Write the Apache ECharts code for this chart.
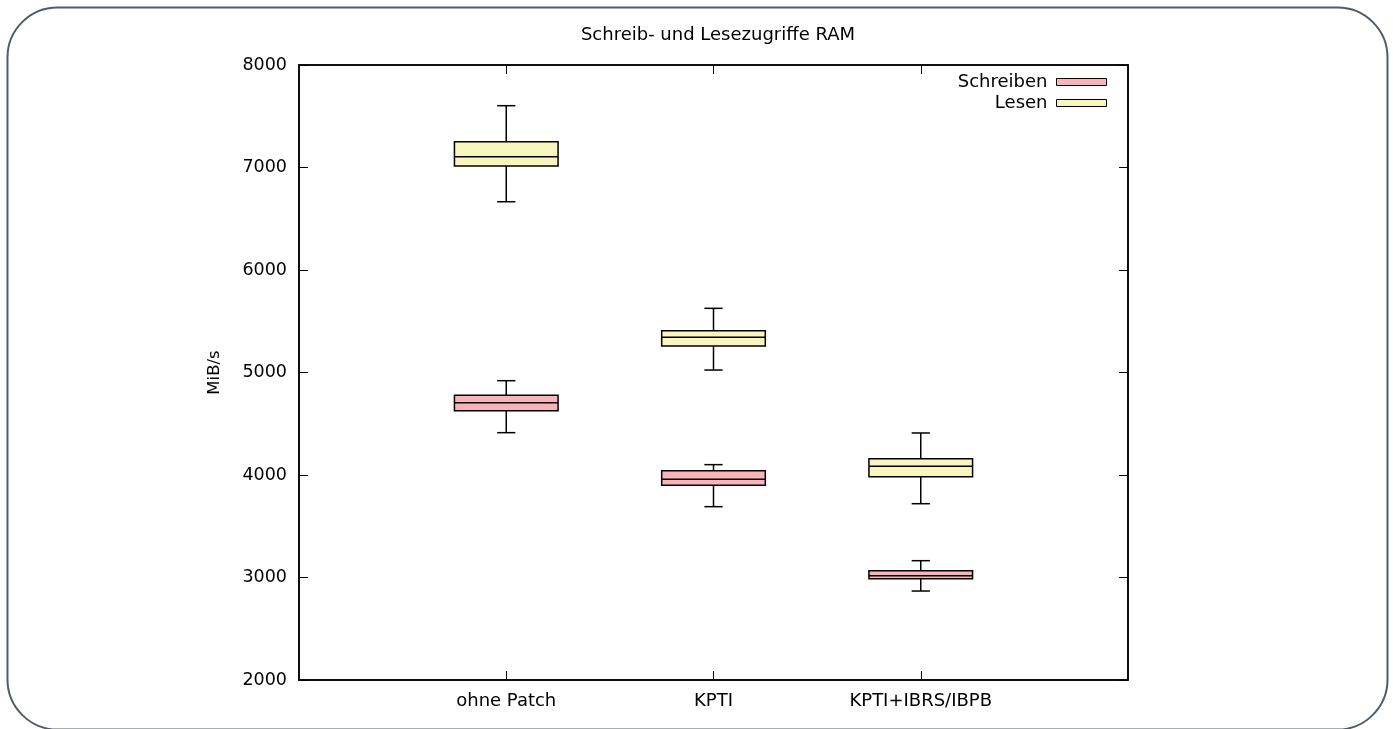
<!DOCTYPE html>
<html>
<head>
<meta charset="utf-8">
<script src="https://cdn.jsdelivr.net/npm/echarts@6/dist/echarts.min.js"></script>
<style>
html,body{margin:0;padding:0;background:#fff;}
#chart{width:1393px;height:729px;}
</style>
</head>
<body>
<div id="chart"></div>
<script>
// Categories (empty slots at both ends give the gnuplot-style margins)
var categories = ['', 'ohne Patch', 'KPTI', 'KPTI+IBRS/IBPB', ''];
// [min, Q1, median, Q3, max] per category (index 1..3)
var schreibenStats = [
  [4413, 4628, 4706, 4778, 4920],
  [3691, 3899, 3958, 4042, 4101],
  [2868, 2988, 3017, 3066, 3164]
];
var lesenStats = [
  [6666, 7015, 7105, 7252, 7603],
  [5024, 5258, 5343, 5408, 5626],
  [3720, 3984, 4085, 4159, 4410]
];
var seriesNames = ['Schreiben', 'Lesen'];
var seriesColors = ['#f8b4b8', '#f8f6bc'];
var yTicks = {min: 2000, max: 8000, interval: 1000};

function toData(stats) {
  return stats.map(function (s, i) { return [i + 1].concat(s); });
}

function renderBox(params, api) {
  var x = api.value(0);
  var pMin = api.coord([x, api.value(1)]);
  var pQ1 = api.coord([x, api.value(2)]);
  var pMed = api.coord([x, api.value(3)]);
  var pQ3 = api.coord([x, api.value(4)]);
  var pMax = api.coord([x, api.value(5)]);
  var band = api.size([1, 0])[0];
  var bw = band * 0.5;
  var cw = band * 0.088;
  var cx = pMed[0];
  var ls = {stroke: '#000', lineWidth: 1.5};
  var fill = api.visual('color');
  return {
    type: 'group',
    children: [
      {type: 'line', shape: {x1: cx, y1: pQ1[1], x2: cx, y2: pMin[1]}, style: ls},
      {type: 'line', shape: {x1: cx, y1: pQ3[1], x2: cx, y2: pMax[1]}, style: ls},
      {type: 'line', shape: {x1: cx - cw / 2, y1: pMin[1], x2: cx + cw / 2, y2: pMin[1]}, style: ls},
      {type: 'line', shape: {x1: cx - cw / 2, y1: pMax[1], x2: cx + cw / 2, y2: pMax[1]}, style: ls},
      {type: 'rect', shape: {x: cx - bw / 2, y: pQ3[1], width: bw, height: pQ1[1] - pQ3[1]},
        style: {fill: fill, stroke: '#000', lineWidth: 1.5}},
      {type: 'line', shape: {x1: cx - bw / 2, y1: pMed[1], x2: cx + bw / 2, y2: pMed[1]}, style: ls}
    ]
  };
}

var font = 'DejaVu Sans';
var tickInterval = function (idx) { return idx >= 1 && idx <= 3; };

var chart = echarts.init(document.getElementById('chart'));
chart.setOption({
  backgroundColor: '#fff',
  animation: false,
  title: {
    text: 'Schreib- und Lesezugriffe RAM',
    left: 713, textAlign: 'center', top: 21,
    textStyle: {fontFamily: font, fontSize: 18, fontWeight: 'normal', color: '#000'}
  },
  graphic: [{
    type: 'rect', left: 5, top: 5,
    shape: {width: 1380, height: 722, r: 50},
    style: {fill: 'none', stroke: '#4e5d68', lineWidth: 2},
    silent: true
  }],
  legend: {
    orient: 'vertical', right: 286, top: 73, padding: 0,
    align: 'right', itemWidth: 50, itemHeight: 7, itemGap: 3,
    icon: 'rect',
    data: seriesNames,
    itemStyle: {borderColor: '#000', borderWidth: 1},
    textStyle: {fontFamily: font, fontSize: 18, color: '#000', padding: [0, 4, 0, 0]}
  },
  grid: {left: 299, right: 265, top: 65, bottom: 49, show: true, borderColor: '#000', borderWidth: 1.5, backgroundColor: 'transparent'},
  xAxis: [{
    type: 'category', data: categories, boundaryGap: false, position: 'bottom',
    axisLine: {show: true, lineStyle: {color: '#000', width: 1.5}},
    axisTick: {show: true, inside: true, length: 9, interval: tickInterval, lineStyle: {color: '#000', width: 1}},
    axisLabel: {interval: 0, margin: 12, fontFamily: font, fontSize: 18, color: '#000'},
    splitLine: {show: false}
  }, {
    type: 'category', data: categories, boundaryGap: false, position: 'top',
    axisLine: {show: true, lineStyle: {color: '#000', width: 1.5}},
    axisTick: {show: true, inside: true, length: 9, interval: tickInterval, lineStyle: {color: '#000', width: 1}},
    axisLabel: {show: false},
    splitLine: {show: false}
  }],
  yAxis: [{
    type: 'value', min: yTicks.min, max: yTicks.max, interval: yTicks.interval, position: 'left',
    name: 'MiB/s', nameLocation: 'middle', nameGap: 76, nameRotate: 90,
    nameTextStyle: {fontFamily: font, fontSize: 16.5, color: '#000'},
    axisLine: {show: true, lineStyle: {color: '#000', width: 1.5}},
    axisTick: {show: true, inside: true, length: 9, lineStyle: {color: '#000', width: 1}},
    axisLabel: {margin: 12, fontFamily: font, fontSize: 17.5, color: '#000',
      formatter: function (v) { return String(v); }},
    splitLine: {show: false}
  }, {
    type: 'value', min: yTicks.min, max: yTicks.max, interval: yTicks.interval, position: 'right',
    axisLine: {show: true, lineStyle: {color: '#000', width: 1.5}},
    axisTick: {show: true, inside: true, length: 9, lineStyle: {color: '#000', width: 1}},
    axisLabel: {show: false},
    splitLine: {show: false}
  }],
  series: [{
    name: seriesNames[0], type: 'custom', renderItem: renderBox,
    xAxisIndex: 0, yAxisIndex: 0,
    itemStyle: {color: seriesColors[0]},
    encode: {x: 0, y: [1, 2, 3, 4, 5]},
    data: toData(schreibenStats)
  }, {
    name: seriesNames[1], type: 'custom', renderItem: renderBox,
    xAxisIndex: 0, yAxisIndex: 0,
    itemStyle: {color: seriesColors[1]},
    encode: {x: 0, y: [1, 2, 3, 4, 5]},
    data: toData(lesenStats)
  }]
});
</script>
</body>
</html>
